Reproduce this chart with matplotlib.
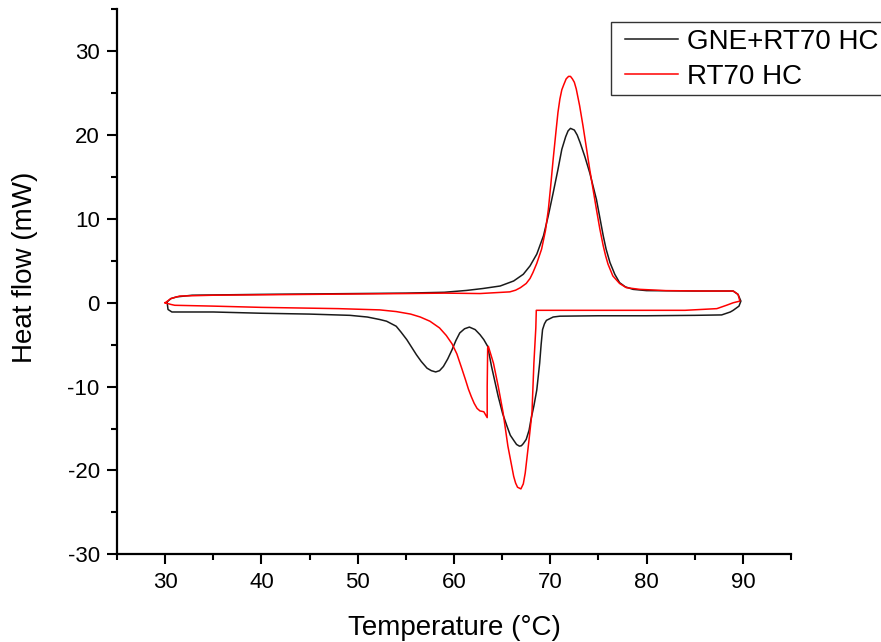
import matplotlib
matplotlib.use("Agg")
import matplotlib.pyplot as plt
from matplotlib.ticker import MultipleLocator
from matplotlib.patches import Rectangle

plt.rcParams['font.family'] = ['Liberation Sans', 'DejaVu Sans']
plt.rcParams['axes.unicode_minus'] = False

# GNE+RT70 HC loop: heating branch (left->right), then cooling branch (right->left)
gne_T = [30.2, 30.6, 31.2, 32.8, 40.0, 50.0, 55.0, 59.0, 61.3, 63.0, 64.8, 66.2, 67.2,
         67.9, 68.6, 69.3, 69.8, 70.3, 70.8, 71.2, 71.6, 71.85, 72.1, 72.5, 72.8, 73.1,
         73.6, 74.1, 74.8, 75.5, 75.8, 76.2, 76.7, 77.2, 77.8, 78.6, 80.0, 85.0, 89.0,
         89.5, 89.8,
         89.6, 89.0, 88.7, 87.8, 85.0, 80.0, 75.0, 71.0, 70.3, 69.6, 69.4, 69.2, 69.05,
         68.9, 68.6, 68.3, 68.0, 67.8, 67.5, 67.2, 67.0, 66.8, 66.5, 66.2, 65.85, 65.5,
         65.05, 64.6, 64.25, 63.9, 63.5, 63.1, 62.7, 62.2, 61.6, 61.1, 60.6, 60.2, 59.8,
         59.35, 58.9, 58.5, 58.1, 57.65, 57.2, 56.6, 56.1, 55.6, 55.1, 54.5, 54.0, 53.5,
         53.0, 52.3, 51.0, 49.2, 45.0, 40.0, 35.0, 31.0, 30.7, 30.3, 30.2]
gne_hf = [0.1, 0.5, 0.7, 0.9, 1.0, 1.1, 1.15, 1.25, 1.47, 1.7, 2.0, 2.6, 3.4,
          4.4, 5.8, 8.0, 10.4, 13.1, 15.9, 18.3, 19.8, 20.5, 20.8, 20.6, 20.0, 19.1,
          17.4, 15.5, 12.3, 8.0, 6.4, 4.8, 3.4, 2.4, 1.9, 1.6, 1.45, 1.4, 1.4,
          1.0, 0.2,
          -0.4, -0.9, -1.1, -1.45, -1.5, -1.55, -1.55, -1.6, -1.7, -2.1, -2.5, -3.2, -5.0,
          -7.2, -10.4, -12.3, -13.9, -15.2, -16.3, -16.8, -17.05, -17.1, -16.9, -16.4, -15.8, -14.7,
          -13.2, -11.2, -9.4, -7.6, -5.2, -4.4, -3.8, -3.2, -2.9, -3.1, -3.6, -4.5, -5.6,
          -6.7, -7.6, -8.1, -8.25, -8.1, -7.8, -7.0, -6.2, -5.3, -4.4, -3.5, -2.8, -2.5,
          -2.2, -2.0, -1.7, -1.5, -1.35, -1.25, -1.1, -1.1, -1.1, -0.8, 0.1]

# RT70 HC loop: heating branch (left->right), then cooling branch (right->left)
rt_T = [30.0, 30.6, 31.5, 35.0, 45.0, 55.0, 59.0, 62.7, 65.8, 66.4, 66.9, 67.5, 67.9,
        68.2, 68.6, 69.1, 69.5, 69.8, 70.05, 70.3, 70.6, 70.8, 71.0, 71.2, 71.4, 71.65,
        71.9, 72.1, 72.3, 72.5, 72.7, 73.05, 73.4, 73.75, 74.1, 74.45, 74.8, 75.15, 75.5,
        75.75, 76.0, 76.5, 77.2, 77.9, 79.3, 82.0, 86.0, 89.0, 89.5, 89.7,
        89.0, 88.3, 87.3, 84.0, 75.0, 68.55, 68.5, 68.3, 68.1, 67.8, 67.4, 67.2, 66.95,
        66.6, 66.4, 66.2, 65.6, 65.1, 64.6, 64.1, 63.57, 63.5, 63.45, 63.45, 63.1, 62.7,
        62.4, 62.1, 61.8, 61.5, 61.2, 60.8, 60.3, 59.8, 59.2, 58.5, 57.5, 56.5, 55.5,
        54.0, 52.3, 48.0, 40.0, 35.0, 31.0, 30.6, 30.0]
rt_hf = [0.0, 0.5, 0.8, 0.9, 1.0, 1.1, 1.15, 1.1, 1.3, 1.5, 1.8, 2.3, 2.9,
         3.6, 4.7, 6.4, 8.6, 11.1, 14.0, 17.1, 20.5, 22.7, 24.3, 25.4, 26.0, 26.7,
         27.0, 27.0, 26.7, 26.3, 25.5, 23.5, 21.1, 18.5, 15.9, 13.5, 11.1, 8.8, 6.8,
         5.6, 4.6, 3.2, 2.3, 1.8, 1.6, 1.45, 1.4, 1.4, 1.0, 0.2,
         0.0, -0.3, -0.7, -0.9, -0.9, -0.9, -3.0, -7.2, -13.1, -16.3, -20.3, -21.6, -22.2,
         -22.0, -21.5, -20.7, -17.1, -13.1, -10.0, -7.2, -5.2, -5.4, -10.0, -13.7, -13.0, -12.9,
         -12.6, -12.0, -11.2, -10.3, -9.2, -7.8, -6.1, -4.9, -3.9, -3.0, -2.2, -1.7, -1.35,
         -1.05, -0.85, -0.7, -0.55, -0.4, -0.3, -0.2, 0.0]

x_ticks = [30, 40, 50, 60, 70, 80, 90]
y_ticks = [-30, -20, -10, 0, 10, 20, 30]

W, H = 881, 642
fig = plt.figure(figsize=(W / 100, H / 100), dpi=100)
ax = fig.add_axes([0.1328, 0.1366, 0.765, 0.8489])

ax.plot(gne_T, gne_hf, color='#1a1a1a', lw=1.1, label='GNE+RT70 HC')
ax.plot(rt_T, rt_hf, color='#ff0000', lw=1.1, label='RT70 HC')

ax.set_xlim(25, 95)
ax.set_ylim(-30, 35)
ax.set_xticks(x_ticks)
ax.set_yticks(y_ticks)
ax.xaxis.set_minor_locator(MultipleLocator(5))
ax.yaxis.set_minor_locator(MultipleLocator(5))

for s in ['top', 'right']:
    ax.spines[s].set_visible(False)
for s in ['left', 'bottom']:
    ax.spines[s].set_linewidth(1.6)

ax.tick_params(which='major', direction='out', length=7.5, width=1.5, labelsize=16, pad=5)
ax.tick_params(which='minor', direction='out', length=4, width=1.5)

ax.set_xlabel('Temperature (°C)', fontsize=20, labelpad=16)
ax.set_ylabel('Heat flow (mW)', fontsize=20)
ax.yaxis.set_label_coords(-0.117, 0.527)

# legend box running off the right edge of the figure, as in the reference
frame = Rectangle((611 / W, 1 - 95 / H), 320 / W, 73 / H, transform=fig.transFigure,
                  facecolor='white', edgecolor='#333333', lw=1.0, clip_on=False, zorder=4)
ax.add_artist(frame)

leg = ax.legend(loc='upper left', bbox_to_anchor=(625 / W, 1 - 29 / H),
                bbox_transform=fig.transFigure, fontsize=20, frameon=False,
                borderaxespad=0, borderpad=0,
                handlelength=1.9, handletextpad=0.32, labelspacing=0.33)
leg.set_zorder(6)

fig.savefig('out.png', dpi=100)
